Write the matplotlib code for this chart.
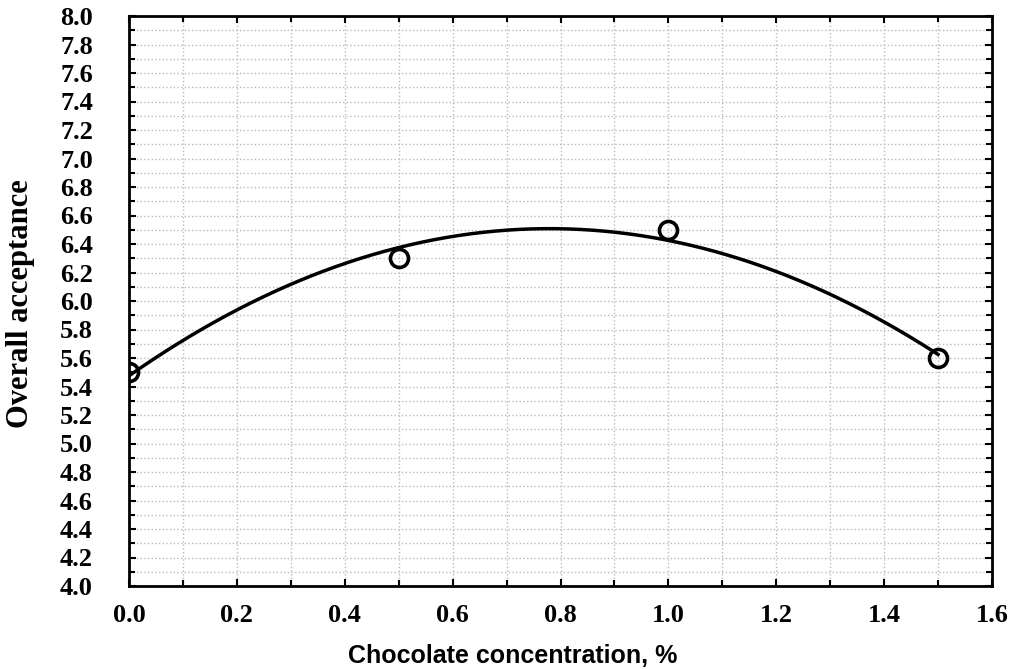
import numpy as np
import matplotlib.pyplot as plt
from matplotlib.ticker import MultipleLocator

conc = np.array([0.0, 0.5, 1.0, 1.5])
accept = np.array([5.50, 6.30, 6.50, 5.60])

coef = np.polyfit(conc, accept, 2)
xs = np.linspace(0.0, 1.5, 200)
ys = np.polyval(coef, xs)

fig = plt.figure(figsize=(10.11, 6.69), dpi=100)
ax = fig.add_axes([129 / 1011, 1 - 586 / 669, 863 / 1011, 570 / 669])

ax.plot(xs, ys, color='black', lw=2.5, zorder=3)
ax.plot(conc, accept, 'o', ms=13, mfc='none', mec='black', mew=2.6,
        zorder=4)

ax.set_xlim(0, 1.6)
ax.set_ylim(4.0, 8.0)
ax.xaxis.set_major_locator(MultipleLocator(0.2))
ax.xaxis.set_minor_locator(MultipleLocator(0.1))
ax.yaxis.set_major_locator(MultipleLocator(0.2))
ax.yaxis.set_minor_locator(MultipleLocator(0.1))
ax.grid(True, which='both', color='#bbbbbb', ls=':', lw=1)
ax.tick_params(which='both', direction='in', top=True, right=True,
               width=1.5, labelsize=19)
ax.tick_params(which='major', length=5)
ax.tick_params(which='minor', length=4)
ax.tick_params(axis='x', pad=13)
ax.tick_params(axis='y', pad=26)
for s in ax.spines.values():
    s.set_linewidth(2)

for lab in ax.get_xticklabels() + ax.get_yticklabels():
    lab.set_family('Liberation Serif')
    lab.set_fontweight('bold')

ax.set_xlabel('Chocolate concentration, %', family='Liberation Sans',
              fontweight='bold', fontsize=18)
ax.set_ylabel('Overall acceptance', family='Liberation Serif',
              fontweight='bold', fontsize=22)
ax.xaxis.set_label_coords(0.445, -0.102)
ax.yaxis.set_label_coords(-0.109, 0.495)

fig.savefig('out.png', dpi=100)
